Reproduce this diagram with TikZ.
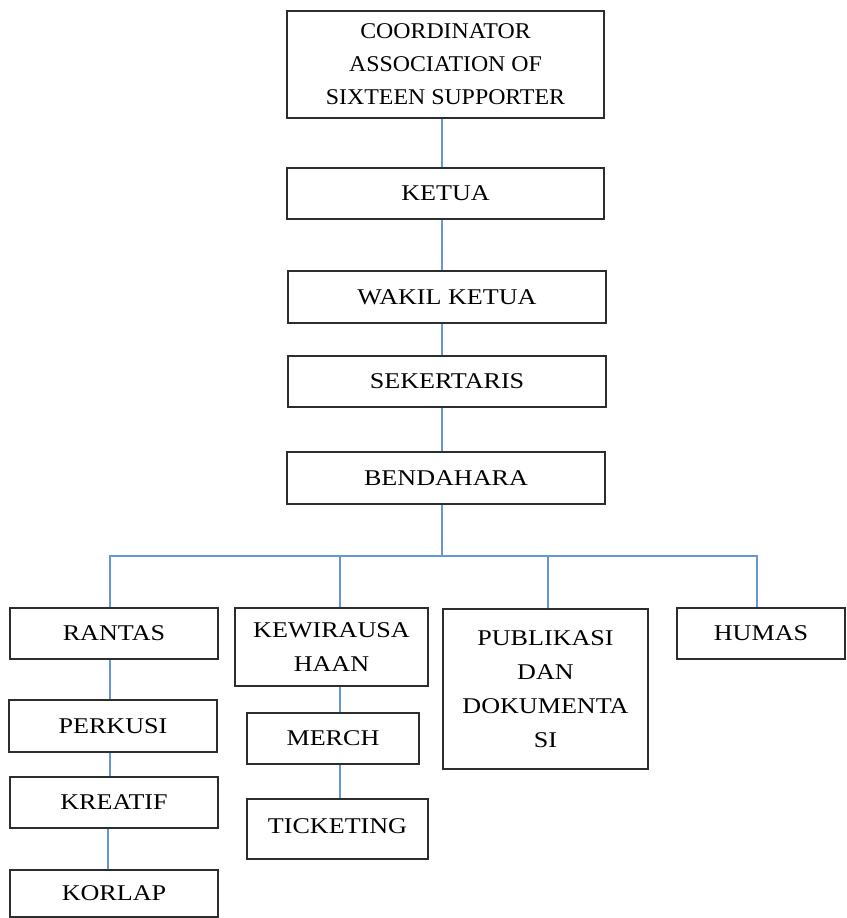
\documentclass[tikz,border=0pt]{standalone}
\usepackage{fontspec}
\setmainfont{Liberation Serif}[FakeStretch=1.16]
\newfontfamily\headfont{Liberation Serif}[FakeStretch=1.06]
\usetikzlibrary{positioning}
\definecolor{wire}{RGB}{104,150,212}
\definecolor{frame}{RGB}{45,45,45}
\tikzset{
  orgbox/.style={draw=frame,line width=1.2pt,rectangle,align=center,inner sep=2pt,
    font=\fontsize{22.5}{34}\selectfont},
  link/.style={draw=wire,line width=1.6pt},
}

\begin{document}
\begin{tikzpicture}[x=1pt,y=-1pt]
  \useasboundingbox (0,0) rectangle (846,918);
  % main chain
  \node[orgbox,minimum width=317pt,minimum height=107pt,
    font=\fontsize{22.5}{33}\headfont] (coord) at (445.5,64.5)
    {COORDINATOR\\ASSOCIATION OF\\SIXTEEN SUPPORTER};
  \node[orgbox,minimum width=317pt,minimum height=51pt] (ketua) at (445.5,193.5) {KETUA};
  \node[orgbox,minimum width=318pt,minimum height=52pt] (wakil) at (447,297) {WAKIL KETUA};
  \node[orgbox,minimum width=318pt,minimum height=51pt] (sekre) at (447,381.5) {SEKERTARIS};
  \node[orgbox,minimum width=318pt,minimum height=52pt] (benda) at (446,478) {BENDAHARA};
  % divisions
  \node[orgbox,minimum width=208pt,minimum height=51pt] (rantas) at (114,633.5) {RANTAS};
  \node[orgbox,minimum width=193pt,minimum height=78pt] (kewira) at (331.5,647) {KEWIRAUSA\\HAAN};
  \node[orgbox,minimum width=205pt,minimum height=160pt] (publik) at (545.5,689)
    {PUBLIKASI\\DAN\\DOKUMENTA\\SI};
  \node[orgbox,minimum width=168pt,minimum height=51pt] (humas) at (761,633.5) {HUMAS};
  % sub units
  \node[orgbox,minimum width=208pt,minimum height=52pt] (perkusi) at (113,726) {PERKUSI};
  \node[orgbox,minimum width=208pt,minimum height=51pt] (kreatif) at (114,802.5) {KREATIF};
  \node[orgbox,minimum width=208pt,minimum height=47pt] (korlap) at (114,893.5) {KORLAP};
  \node[orgbox,minimum width=172pt,minimum height=51pt] (merch) at (333,738.5) {MERCH};
  \node[orgbox,minimum width=181pt,minimum height=60pt] (ticket) at (337.5,829)
    {\raisebox{6pt}{TICKETING}};

  \coordinate (bus) at (442,556);
  \draw[link] ([xshift=-3.5pt]coord.south) -- ([xshift=-3.5pt]ketua.north);
  \draw[link] ([xshift=-3.5pt]ketua.south) -- ([xshift=-5pt]wakil.north);
  \draw[link] ([xshift=-5pt]wakil.south) -- ([xshift=-5pt]sekre.north);
  \draw[link] ([xshift=-5pt]sekre.south) -- ([xshift=-4pt]benda.north);
  \draw[link] ([xshift=-4pt]benda.south) -- (bus);
  \draw[link] ([xshift=-4pt]rantas.north) |- (bus) -| ([xshift=-4pt]humas.north);
  \draw[link] ([xshift=8.5pt]kewira.north) -- ([xshift=8.5pt]kewira.north |- bus);
  \draw[link] ([xshift=2.5pt]publik.north) -- ([xshift=2.5pt]publik.north |- bus);
  \draw[link] ([xshift=-4pt]rantas.south) -- ([xshift=-4pt]rantas.south |- perkusi.north);
  \draw[link] ([xshift=-3pt]perkusi.south) -- ([xshift=-3pt]perkusi.south |- kreatif.north);
  \draw[link] ([xshift=-6pt]kreatif.south) -- ([xshift=-6pt]kreatif.south |- korlap.north);
  \draw[link] ([xshift=8.5pt]kewira.south) -- ([xshift=8.5pt]kewira.south |- merch.north);
  \draw[link] ([xshift=7pt]merch.south) -- ([xshift=7pt]merch.south |- ticket.north);
\end{tikzpicture}
\end{document}
